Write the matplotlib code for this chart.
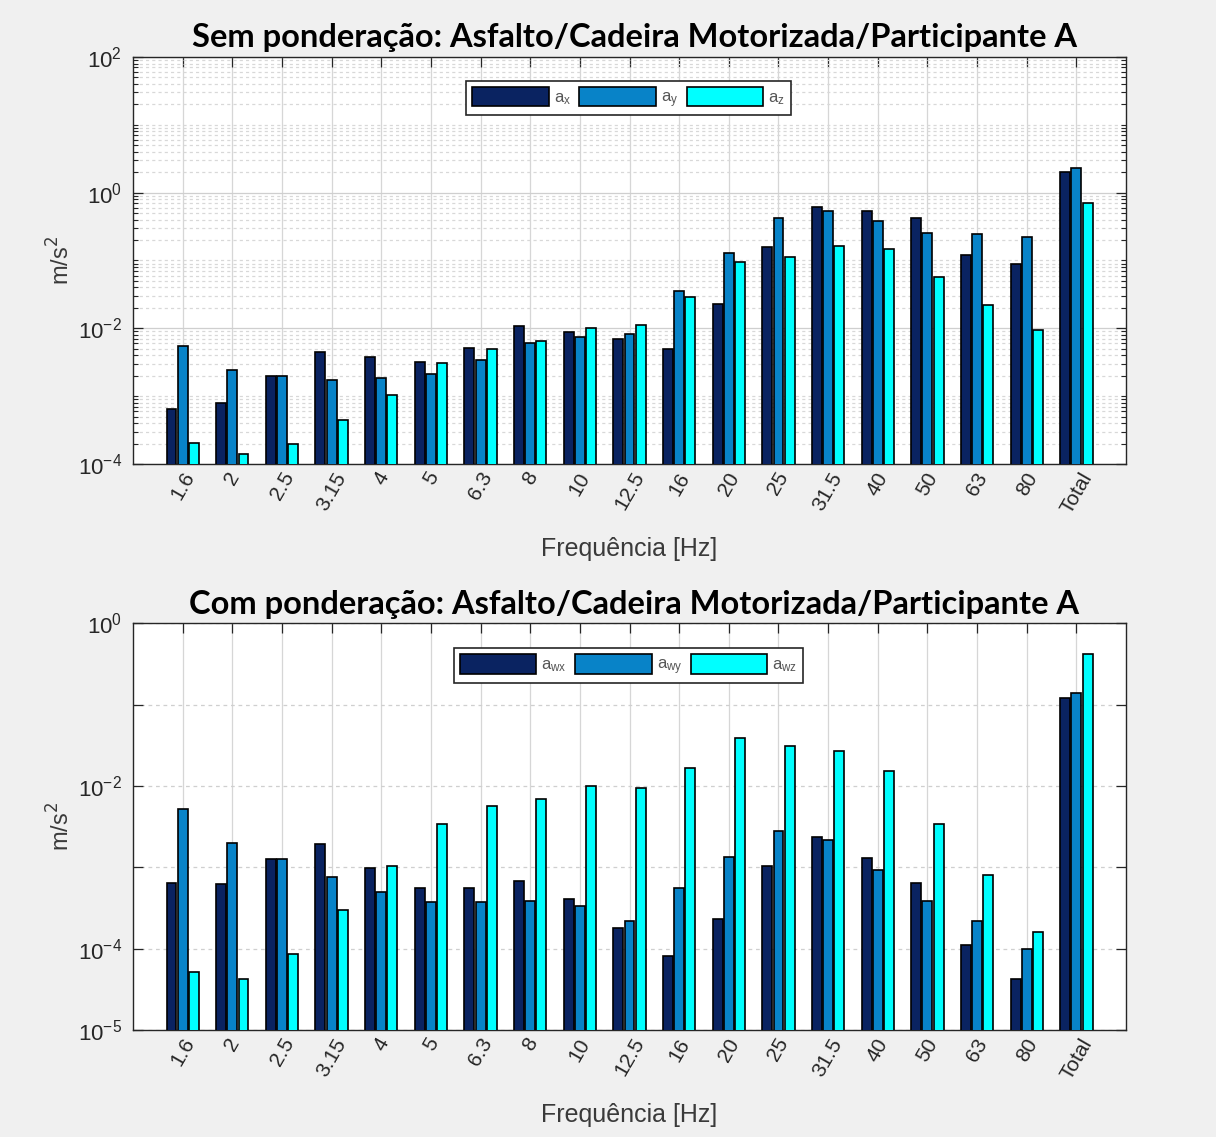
import numpy as np
import matplotlib.pyplot as plt
from matplotlib.ticker import FixedLocator, FixedFormatter, NullFormatter

plt.rcParams['font.family'] = ['Liberation Sans', 'DejaVu Sans']

# third-octave bands (Hz) plus the overall value
bands = ['1.6', '2', '2.5', '3.15', '4', '5', '6.3', '8', '10', '12.5',
         '16', '20', '25', '31.5', '40', '50', '63', '80', 'Total']

# unweighted rms acceleration per band, m/s^2
a_x = [6.5e-4, 7.8e-4, 1.97e-3, 4.46e-3, 3.72e-3, 3.24e-3, 5.06e-3, 1.08e-2, 8.8e-3, 6.95e-3,
       5.0e-3, 2.27e-2, 0.157, 0.62, 0.54, 0.42, 0.12, 0.0887, 2.03]
a_y = [5.4e-3, 2.39e-3, 1.97e-3, 1.75e-3, 1.84e-3, 2.1e-3, 3.47e-3, 6.05e-3, 7.4e-3, 8.3e-3,
       3.53e-2, 0.13, 0.42, 0.54, 0.376, 0.258, 0.244, 0.225, 2.32]
a_z = [2.07e-4, 1.42e-4, 1.95e-4, 4.39e-4, 1.05e-3, 3.06e-3, 5.0e-3, 6.4e-3, 1.0e-2, 1.13e-2,
       2.91e-2, 0.096, 0.114, 0.166, 0.147, 0.057, 0.0224, 9.3e-3, 0.70]

# frequency-weighted rms acceleration per band, m/s^2
a_wx = [6.5e-4, 6.2e-4, 1.28e-3, 1.92e-3, 9.86e-4, 5.55e-4, 5.55e-4, 6.8e-4, 4.07e-4, 1.79e-4,
        8.2e-5, 2.31e-4, 1.04e-3, 2.34e-3, 1.32e-3, 6.5e-4, 1.11e-4, 4.18e-5, 0.12]
a_wy = [5.15e-3, 2.01e-3, 1.28e-3, 7.5e-4, 5.0e-4, 3.7e-4, 3.7e-4, 3.85e-4, 3.31e-4, 2.17e-4,
        5.55e-4, 1.34e-3, 2.77e-3, 2.15e-3, 9.2e-4, 3.85e-4, 2.17e-4, 1.0e-4, 0.141]
a_wz = [5.14e-5, 4.18e-5, 8.6e-5, 2.98e-4, 1.03e-3, 3.38e-3, 5.67e-3, 6.97e-3, 9.96e-3, 9.5e-3,
        1.67e-2, 3.9e-2, 3.13e-2, 2.67e-2, 1.51e-2, 3.38e-3, 8.0e-4, 1.62e-4, 0.42]

colors = ['#0a2361', '#0883c8', '#00ffff']
dark = '#262626'


def draw_panel(ax, series, names, title, ylo, yhi, labelled, minor_grid):
    x = np.arange(1, len(bands) + 1)
    ax.set_yscale('log')
    handles = []
    for k, (vals, c) in enumerate(zip(series, colors)):
        h = ax.bar(x + (k - 1) * 0.225, vals, width=0.2, color=c,
                   edgecolor='black', linewidth=1.2, zorder=3)
        handles.append(h)
    ax.set_xlim(0, 20)
    ax.set_ylim(10.0 ** ylo, 10.0 ** yhi)
    ax.set_xticks(x)
    ax.set_xticklabels(bands, rotation=60, ha='center', fontsize=15, color=dark)

    decades = list(range(ylo, yhi + 1))
    if minor_grid:
        majors = [10.0 ** e for e in labelled]
        minors = [m * 10.0 ** e for e in range(ylo, yhi) for m in range(1, 10)
                  if not (m == 1 and e in labelled)]
        ax.yaxis.set_major_locator(FixedLocator(majors))
        ax.yaxis.set_major_formatter(FixedFormatter(
            [r'$\mathregular{10^{%d}}$' % e for e in labelled]))
        ax.yaxis.set_minor_locator(FixedLocator(minors))
        ax.yaxis.set_minor_formatter(NullFormatter())
        ax.yaxis.grid(True, which='major', color='#cfcfcf', lw=0.9, ls='-', zorder=0)
        ax.yaxis.grid(True, which='minor', color='#d8d8d8', lw=0.9, ls=(0, (2.5, 2.5)), zorder=0)
    else:
        ax.yaxis.set_major_locator(FixedLocator([10.0 ** e for e in decades]))
        ax.yaxis.set_major_formatter(FixedFormatter(
            [r'$\mathregular{10^{%d}}$' % e if e in labelled else '' for e in decades]))
        ax.yaxis.set_minor_locator(FixedLocator([]))
        ax.yaxis.grid(True, which='major', color='#cfcfcf', lw=0.9, ls=(0, (3, 3)), zorder=0)
    ax.xaxis.grid(True, color='#d6d6d6', lw=0.9, ls='-', zorder=0)

    ax.tick_params(axis='both', which='major', direction='in', length=7, width=0.9,
                   top=True, right=True, colors=dark)
    ax.tick_params(axis='y', which='major', labelsize=16, pad=8)
    ax.tick_params(axis='y', which='minor', direction='in', length=3.5, width=0.8,
                   right=True, colors=dark)
    for s in ax.spines.values():
        s.set_color(dark)
        s.set_linewidth(1.0)

    ax.set_xlabel('Frequência [Hz]', fontsize=18, color='#3a3a3a', labelpad=15)
    ax.set_ylabel(r'm/s$^2$', fontsize=17, color='#3a3a3a', labelpad=2)
    ax.set_title(title, fontsize=23.5, fontweight='bold', pad=7, x=0.505,
                 family=['Lato', 'DejaVu Sans'])

    leg = ax.legend(handles, names, ncol=3, loc='center', fontsize=12,
                    handlelength=4.6, handleheight=1.45, handletextpad=0.3,
                    columnspacing=0.5, borderpad=0.35, fancybox=False,
                    framealpha=1, edgecolor=dark, labelcolor='#555555')
    leg.get_frame().set_linewidth(1.2)
    return leg


fig = plt.figure(figsize=(12.16, 11.37), dpi=100, facecolor='#f0f0f0')
ax1 = fig.add_axes([0.1094, 0.5919, 0.8166, 0.3580])
ax2 = fig.add_axes([0.1094, 0.0941, 0.8166, 0.3577])

leg1 = draw_panel(ax1, [a_x, a_y, a_z],
                  [r'$\mathregular{a_x}$', r'$\mathregular{a_y}$', r'$\mathregular{a_z}$'],
                  'Sem ponderação: Asfalto/Cadeira Motorizada/Participante A',
                  -4, 2, [-4, -2, 0, 2], True)
leg1.set_bbox_to_anchor((0.499, 0.899), transform=ax1.transAxes)

leg2 = draw_panel(ax2, [a_wx, a_wy, a_wz],
                  [r'$\mathregular{a_{wx}}$', r'$\mathregular{a_{wy}}$', r'$\mathregular{a_{wz}}$'],
                  'Com ponderação: Asfalto/Cadeira Motorizada/Participante A',
                  -5, 0, [-5, -4, -2, 0], False)
leg2.set_bbox_to_anchor((0.499, 0.8956), transform=ax2.transAxes)

fig.savefig('out.png', dpi=100, facecolor=fig.get_facecolor())
